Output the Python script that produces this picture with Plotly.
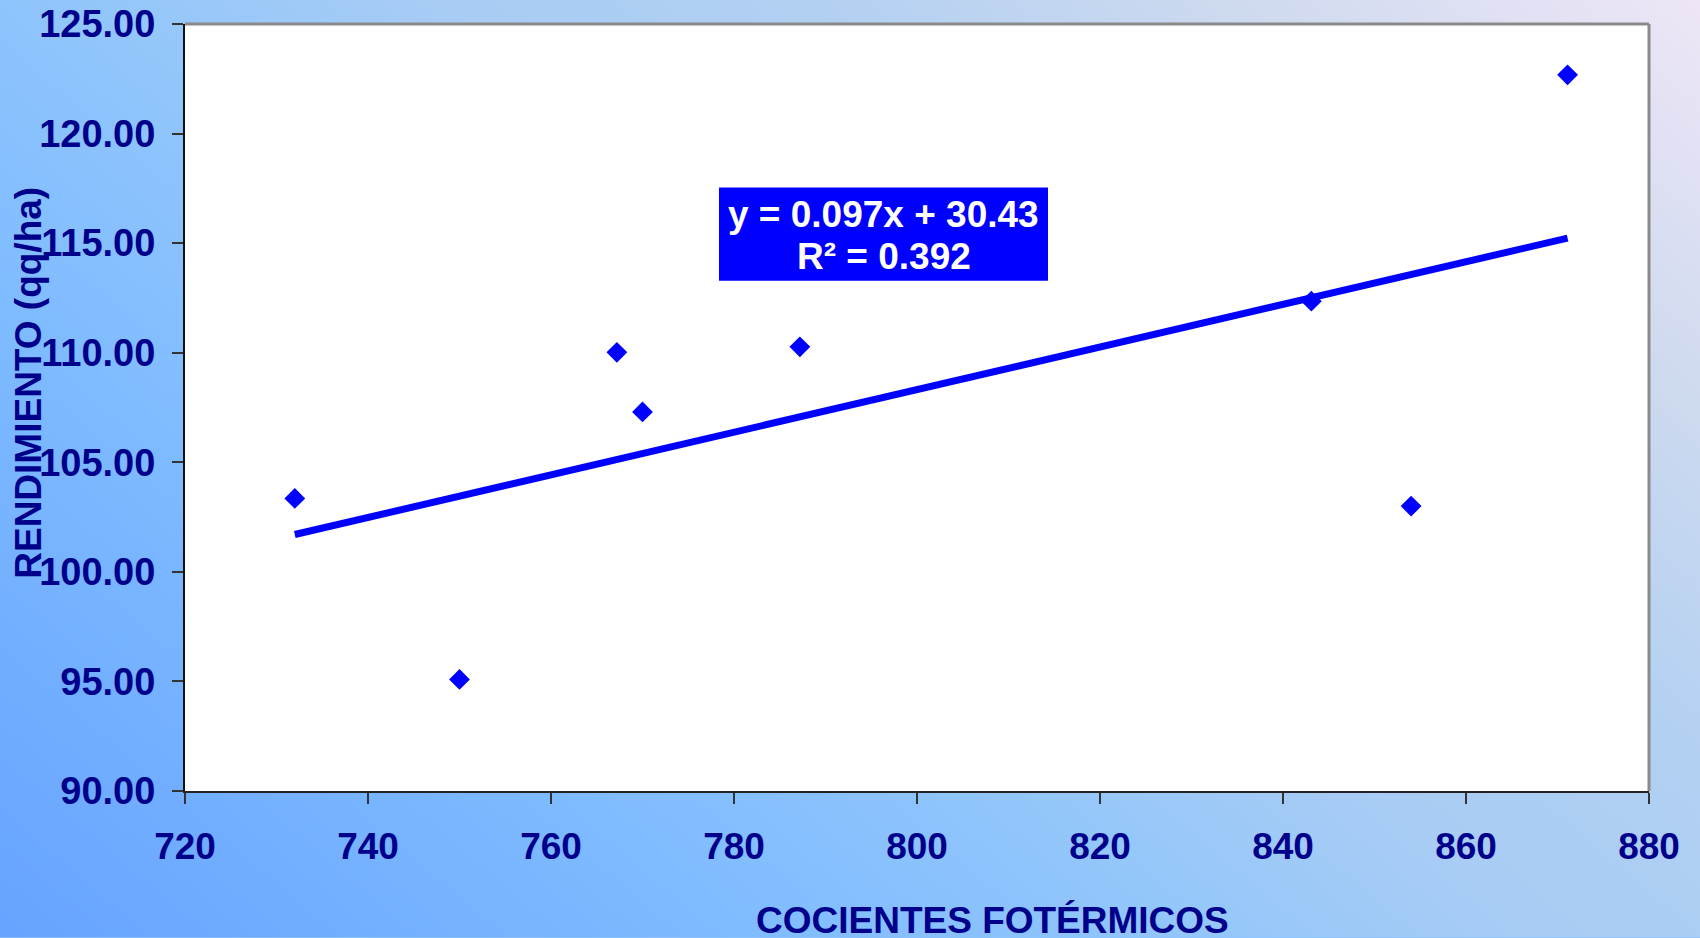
import base64
import numpy as np
import plotly.graph_objects as go

# ---- data ----
cocientes = [732.0, 750.0, 767.2, 770.0, 787.2, 843.1, 854.0, 871.1]
rendimiento = [103.35, 95.09, 110.02, 107.30, 110.27, 112.35, 103.00, 122.68]
eq_text = "y = 0.097x + 30.43"
r2_text = "R² = 0.392"
x_ticks = [720, 740, 760, 780, 800, 820, 840, 860, 880]
y_ticks = [90, 95, 100, 105, 110, 115, 120, 125]
x_title = "COCIENTES FOTÉRMICOS"
y_title = "RENDIMIENTO (qq/ha)"

W, H = 1700, 938
ML, MR, MT, MB = 185, 51, 24, 146.5
PW, PH = W - ML - MR, H - MT - MB

NAVY = "#00008B"
FONT = "Arial, Liberation Sans, sans-serif"


def px(xp):
    return (xp - ML) / PW


def py(yp):
    return (H - MB - yp) / PH


# linear trend fitted from the points
slope, intercept = np.polyfit(cocientes, rendimiento, 1)
xs = np.array([min(cocientes), max(cocientes)])
ys = slope * xs + intercept

# background gradient as svg
svg = f'''<svg xmlns="http://www.w3.org/2000/svg" width="{W}" height="{H}" viewBox="0 0 {W} {H}" preserveAspectRatio="none">
<defs><linearGradient id="g" gradientUnits="userSpaceOnUse" x1="0" y1="{H}" x2="1181" y2="-444">
<stop offset="0" stop-color="#66A3FF"/>
<stop offset="0.28" stop-color="#80BCFF"/>
<stop offset="0.42" stop-color="#92C6FB"/>
<stop offset="0.55" stop-color="#A8CCF4"/>
<stop offset="0.68" stop-color="#B2D0F2"/>
<stop offset="0.82" stop-color="#CCD9EF"/>
<stop offset="1" stop-color="#EEE6F6"/>
</linearGradient></defs>
<rect x="0" y="0" width="{W}" height="{H}" fill="url(#g)"/></svg>'''
bg_src = "data:image/svg+xml;base64," + base64.b64encode(svg.encode()).decode()

fig = go.Figure()
fig.add_trace(go.Scatter(
    x=cocientes, y=rendimiento, mode="markers",
    marker=dict(symbol="diamond", size=16, color="#0000FF", line=dict(width=0)),
    showlegend=False, hoverinfo="x+y"))
fig.add_trace(go.Scatter(
    x=xs, y=ys, mode="lines",
    line=dict(color="#0000FF", width=7),
    showlegend=False, hoverinfo="skip"))

fig.update_layout(
    template="none",
    width=W, height=H,
    margin=dict(l=ML, r=MR, t=MT, b=MB, pad=0, autoexpand=False),
    paper_bgcolor="#8EC4FB",
    plot_bgcolor="white",
    font=dict(family=FONT, color=NAVY, size=36),
    images=[dict(source=bg_src, xref="paper", yref="paper",
                 x=-ML / PW, y=1 + MT / PH, sizex=W / PW, sizey=H / PH,
                 xanchor="left", yanchor="top", sizing="stretch", layer="below")],
    xaxis=dict(range=[720, 880], tickvals=x_ticks, ticktext=[str(v) for v in x_ticks],
               automargin=False,
               showgrid=False, zeroline=False, showline=True, linecolor="#222222", linewidth=2,
               ticks="outside", ticklen=11, tickwidth=1.5, tickcolor="#333333",
               tickfont=dict(family=FONT, size=37, color=NAVY, weight="bold"),
               ticklabelstandoff=11),
    yaxis=dict(range=[90, 125], tickvals=y_ticks, ticktext=[f"{v:.2f}" for v in y_ticks],
               automargin=False,
               showgrid=False, zeroline=False, showline=True, linecolor="#111111", linewidth=2,
               ticks="outside", ticklen=11, tickwidth=1.5, tickcolor="#333333",
               tickfont=dict(family=FONT, size=38, color=NAVY, weight="bold"),
               ticklabelstandoff=9),
    shapes=[
        dict(type="rect", xref="paper", yref="paper", x0=0, x1=1, y0=0, y1=1,
             fillcolor="white", line=dict(width=0), layer="below"),
        dict(type="line", xref="paper", yref="paper", x0=0, x1=1, y0=1, y1=1,
             line=dict(color="#8A8A8A", width=3)),
        dict(type="line", xref="paper", yref="paper", x0=1, x1=1, y0=0, y1=1,
             line=dict(color="#8A8A8A", width=3)),
        # box behind the trend equation
        dict(type="rect", xref="paper", yref="paper",
             x0=px(719), x1=px(1048), y0=py(281), y1=py(187.6),
             fillcolor="#0000FF", line=dict(width=0), layer="above"),
    ],
    annotations=[
        dict(text=f"<b>{eq_text}</b>", xref="paper", yref="paper",
             x=px(883.6), y=py(215), xanchor="center", yanchor="middle",
             showarrow=False, font=dict(family=FONT, size=37, color="white")),
        dict(text=f"<b>{r2_text}</b>", xref="paper", yref="paper",
             x=px(884), y=py(257), xanchor="center", yanchor="middle",
             showarrow=False, font=dict(family=FONT, size=37, color="white")),
        dict(text=f"<b>{y_title}</b>", xref="paper", yref="paper",
             x=px(29), y=py(383), xanchor="center", yanchor="middle",
             textangle=-90, showarrow=False, font=dict(family=FONT, size=37, color=NAVY)),
        dict(text=f"<b>{x_title}</b>", xref="paper", yref="paper",
             x=px(993), y=py(921.5), xanchor="center", yanchor="middle",
             showarrow=False, font=dict(family=FONT, size=37, color=NAVY)),
    ],
)

fig.write_html("out.html", config={"displayModeBar": False},
               post_script="document.body.style.margin='0';document.body.style.padding='0';")
